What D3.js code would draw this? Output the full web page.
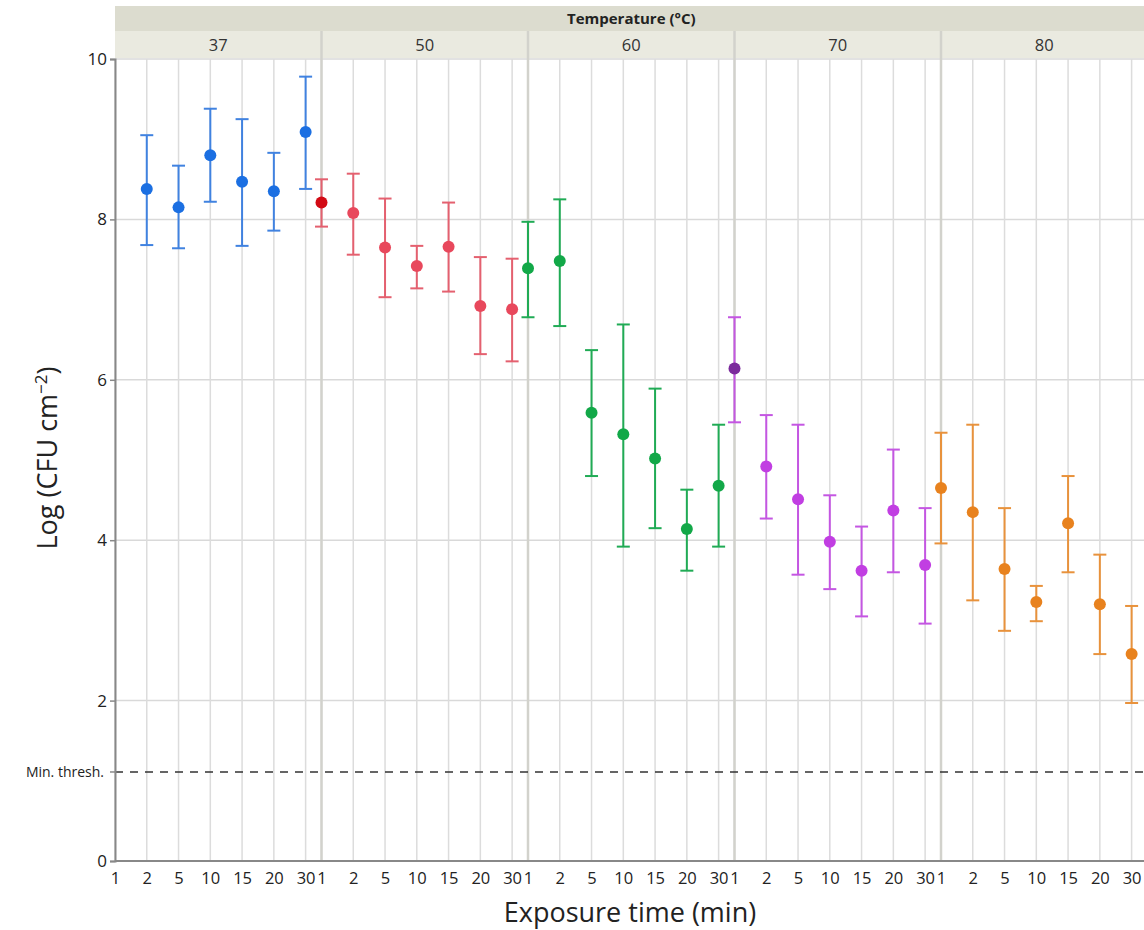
<!DOCTYPE html>
<html>
<head>
<meta charset="utf-8">
<script src="https://cdn.jsdelivr.net/npm/d3@7"></script>
<style>
  html, body { margin: 0; padding: 0; background: #fff; }
  svg { display: block; }
  text { font-family: "Open Sans", "Noto Sans", sans-serif; }
</style>
</head>
<body>
<svg id="chart" width="1144" height="930"></svg>
<script>
// ---------- data ----------
const temperatures = ["37", "50", "60", "70", "80"];
const times = ["1", "2", "5", "10", "15", "20", "30"];
const yTicks = [0, 2, 4, 6, 8, 10];
const minThreshold = 1.11;

// mean log CFU per temperature (rows) and exposure time (columns); null = no data
const meanValues = [
  [null, 8.38, 8.15, 8.80, 8.47, 8.35, 9.09],
  [8.21, 8.08, 7.65, 7.42, 7.66, 6.92, 6.88],
  [7.39, 7.48, 5.59, 5.32, 5.02, 4.14, 4.68],
  [6.14, 4.92, 4.51, 3.98, 3.62, 4.37, 3.69],
  [4.65, 4.35, 3.64, 3.23, 4.21, 3.20, 2.58]
];
const lowerValues = [
  [null, 7.68, 7.64, 8.22, 7.67, 7.86, 8.38],
  [7.91, 7.56, 7.03, 7.14, 7.10, 6.32, 6.23],
  [6.78, 6.67, 4.80, 3.92, 4.15, 3.62, 3.92],
  [5.47, 4.27, 3.57, 3.39, 3.05, 3.60, 2.96],
  [3.96, 3.25, 2.87, 2.99, 3.60, 2.58, 1.97]
];
const upperValues = [
  [null, 9.05, 8.67, 9.38, 9.25, 8.83, 9.78],
  [8.50, 8.57, 8.26, 7.67, 8.21, 7.53, 7.51],
  [7.97, 8.25, 6.37, 6.69, 5.89, 4.63, 5.44],
  [6.78, 5.56, 5.44, 4.56, 4.17, 5.13, 4.40],
  [5.34, 5.44, 4.40, 3.43, 4.80, 3.82, 3.18]
];
const pointColors = ["#1b6fe2", "#e8485c", "#12a848", "#c13ee2", "#e8821e"];
const barColors   = ["#4082e0", "#e4606f", "#20ab55", "#c456e2", "#e8923c"];
const firstPointColors = [null, "#d20a14", "#12a848", "#7b2a9c", "#e8821e"];

// ---------- layout ----------
const W = 1144, H = 930;
const plotLeft = 115, plotRight = 1147.5, plotTop = 59, plotBottom = 861;
const svg = d3.select("#chart");

const outer = d3.scaleBand().domain(temperatures).range([plotLeft, plotRight]).paddingInner(0).paddingOuter(0);
const inner = d3.scalePoint().domain(times).range([0, outer.bandwidth() * 6 / 6.5]);
const y = d3.scaleLinear().domain([0, 10]).range([plotBottom, plotTop]);
const xPos = (ti, tj) => outer(temperatures[ti]) + inner(times[tj]);

const g = svg.append("g");

// header bands
g.append("rect").attr("x", plotLeft).attr("y", 6).attr("width", plotRight - plotLeft).attr("height", 25)
  .attr("fill", "#dcdccf");
g.append("rect").attr("x", plotLeft).attr("y", 31).attr("width", plotRight - plotLeft).attr("height", 27)
  .attr("fill", "#eaeae0");
g.append("text").attr("x", (plotLeft + plotRight) / 2).attr("y", 24)
  .attr("text-anchor", "middle").attr("font-size", 15).attr("font-weight", "bold")
  .attr("fill", "#222").text("Temperature (°C)");
g.selectAll(".plabel").data(temperatures).join("text")
  .attr("x", d => outer(d) + outer.bandwidth() / 2).attr("y", 51)
  .attr("text-anchor", "middle").attr("font-size", 16.5).attr("fill", "#333").text(d => d);

// horizontal grid
g.selectAll(".hgrid").data(yTicks.filter(d => d > 0)).join("line")
  .attr("x1", plotLeft).attr("x2", plotRight).attr("y1", d => y(d)).attr("y2", d => y(d))
  .attr("stroke", "#d9d9d9").attr("stroke-width", 1.5);

// vertical grid per category
temperatures.forEach((t, ti) => {
  g.selectAll(".vg" + ti).data(times).join("line")
    .attr("class", "vg" + ti)
    .attr("x1", (d, j) => xPos(ti, j)).attr("x2", (d, j) => xPos(ti, j))
    .attr("y1", plotTop).attr("y2", plotBottom)
    .attr("stroke", "#dcdcdc").attr("stroke-width", 1.5);
});
// panel separators
g.selectAll(".sep").data(temperatures.slice(1)).join("line")
  .attr("x1", d => outer(d)).attr("x2", d => outer(d))
  .attr("y1", 31).attr("y2", plotBottom)
  .attr("stroke", "#d2d2cc").attr("stroke-width", 2.5);

// min threshold line
g.append("line").attr("x1", plotLeft).attr("x2", W).attr("y1", y(minThreshold)).attr("y2", y(minThreshold))
  .attr("stroke", "#333").attr("stroke-width", 1.5).attr("stroke-dasharray", "8,7");

// axes
const yAxis = d3.axisLeft(y).tickValues(yTicks).tickSize(5).tickFormat(d3.format("d"));
const ya = svg.append("g").attr("transform", `translate(${plotLeft},0)`).call(yAxis);
ya.select(".domain").attr("stroke", "#888").attr("stroke-width", 2);
ya.selectAll(".tick line").attr("stroke", "#888").attr("stroke-width", 1.5);
ya.selectAll(".tick text").attr("font-size", 17).attr("fill", "#222").attr("x", -8)
  .attr("font-family", "Open Sans, sans-serif");
// min thresh tick + label
svg.append("line").attr("x1", plotLeft - 5).attr("x2", plotLeft).attr("y1", y(minThreshold)).attr("y2", y(minThreshold))
  .attr("stroke", "#888").attr("stroke-width", 1.5);
svg.append("text").attr("x", plotLeft - 11).attr("y", y(minThreshold)).attr("dy", "0.35em")
  .attr("text-anchor", "end").attr("font-size", 14).attr("fill", "#222").text("Min. thresh.");

// x axis baseline
svg.append("line").attr("x1", plotLeft).attr("x2", W).attr("y1", plotBottom).attr("y2", plotBottom)
  .attr("stroke", "#888").attr("stroke-width", 2);
temperatures.forEach((t, ti) => {
  const ax = d3.axisBottom(inner).tickSize(0).tickPadding(11);
  const a = svg.append("g").attr("transform", `translate(${outer(t)},${plotBottom})`).call(ax);
  a.select(".domain").remove();
  a.selectAll(".tick text").attr("font-size", 16.5).attr("fill", "#222")
    .attr("font-family", "Open Sans, sans-serif");
});

// axis titles
svg.append("text").attr("x", 630).attr("y", 922).attr("text-anchor", "middle")
  .attr("font-size", 27).attr("fill", "#222").text("Exposure time (min)");
const yt = svg.append("text").attr("transform", "translate(57,458) rotate(-90)")
  .attr("text-anchor", "middle").attr("font-size", 27).attr("fill", "#222");
yt.append("tspan").text("Log (CFU cm");
yt.append("tspan").attr("font-size", 17).attr("dy", -10).text("−2");
yt.append("tspan").attr("dy", 10).text(")");

// data marks
const marks = [];
temperatures.forEach((t, ti) => times.forEach((tm, tj) => {
  if (meanValues[ti][tj] !== null) marks.push({ ti, tj, m: meanValues[ti][tj], lo: lowerValues[ti][tj], hi: upperValues[ti][tj] });
}));
const cap = 6.5;
const mg = g.append("g");
const eb = mg.selectAll(".eb").data(marks).join("g").attr("stroke", d => barColors[d.ti]).attr("stroke-width", 2);
eb.append("line").attr("x1", d => xPos(d.ti, d.tj)).attr("x2", d => xPos(d.ti, d.tj))
  .attr("y1", d => y(d.lo)).attr("y2", d => y(d.hi));
eb.append("line").attr("x1", d => xPos(d.ti, d.tj) - cap).attr("x2", d => xPos(d.ti, d.tj) + cap)
  .attr("y1", d => y(d.hi)).attr("y2", d => y(d.hi));
eb.append("line").attr("x1", d => xPos(d.ti, d.tj) - cap).attr("x2", d => xPos(d.ti, d.tj) + cap)
  .attr("y1", d => y(d.lo)).attr("y2", d => y(d.lo));
mg.selectAll(".pt").data(marks).join("circle")
  .attr("cx", d => xPos(d.ti, d.tj)).attr("cy", d => y(d.m)).attr("r", 6)
  .attr("fill", d => (d.tj === 0 && firstPointColors[d.ti]) ? firstPointColors[d.ti] : pointColors[d.ti]);
</script>
</body>
</html>
